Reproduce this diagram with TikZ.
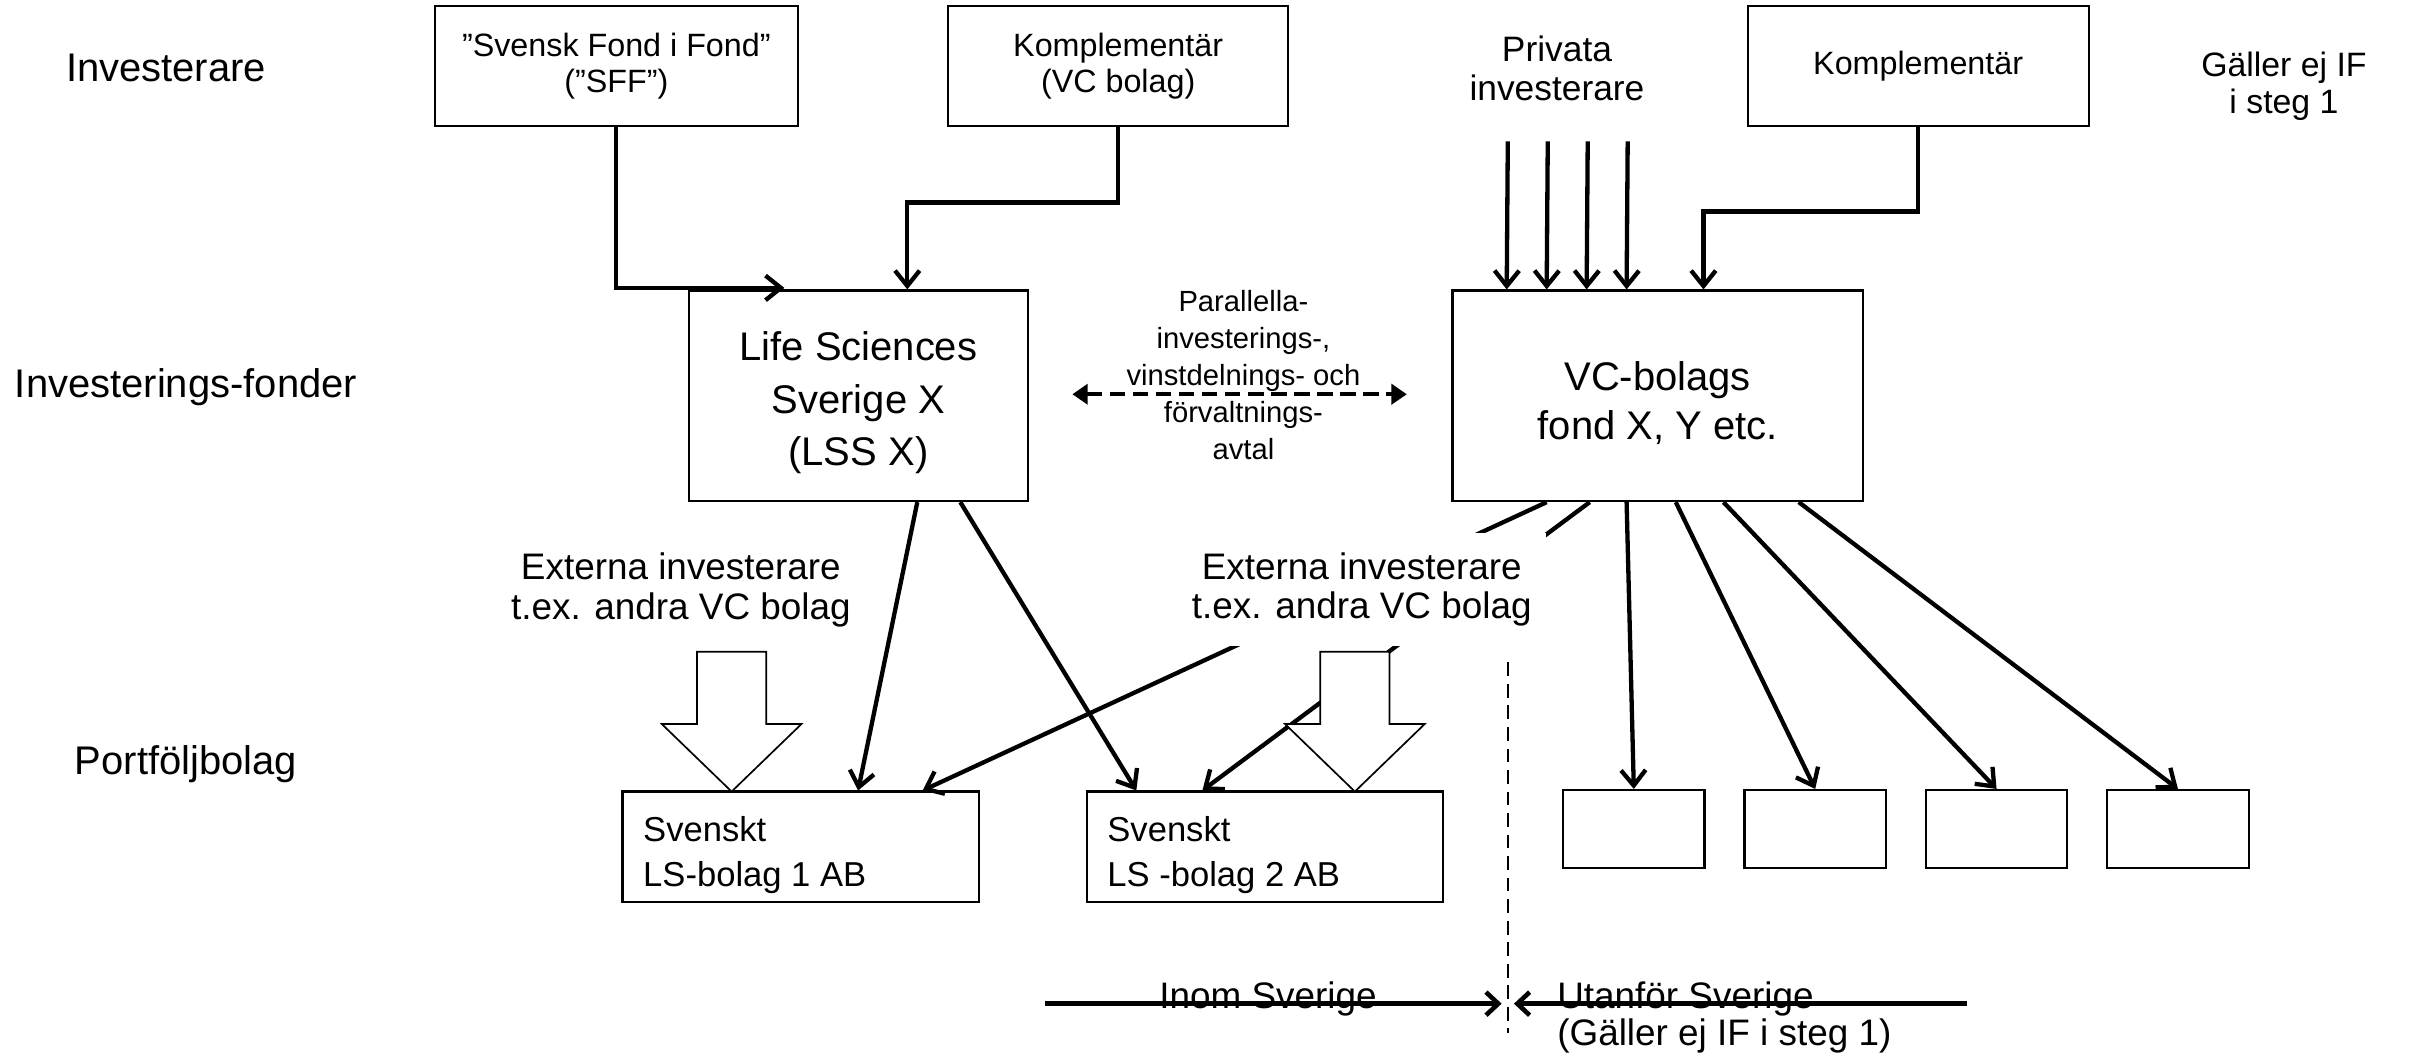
\documentclass[tikz,border=0pt]{standalone}
\usepackage{fontspec}
\setmainfont{Liberation Sans}
\usetikzlibrary{arrows.meta,calc}
\begin{document}
\begin{tikzpicture}[x=1pt,y=-1pt,
  box/.style={draw, line width=1.4pt, fill=white, inner sep=0pt, align=center},
  conn/.style={line width=2.8pt, -{Straight Barb[length=10pt,width=16pt]}},
  lbl/.style={align=center, inner sep=0pt},
  hollowarrow/.style={draw, line width=1.1pt, fill=white, line join=miter},
  fbig/.style={font=\fontsize{26}{31.5}\selectfont},
  fmid/.style={font=\fontsize{24}{26}\selectfont},
  fbox/.style={font=\fontsize{21}{23}\selectfont},
  fsmall/.style={font=\fontsize{19}{24}\selectfont},
  lstext/.style={anchor=north west, inner sep=0pt, align=left, font=\fontsize{22.5}{29}\selectfont},
]
\useasboundingbox (0,0) rectangle (1568,686);
\fill[white] (0,0) rectangle (1568,686);

% row labels
\node[lbl, fbig] (rInv) at (108,44) {Investerare};
\node[lbl, fbig] (rFond) at (121,252) {Investerings-fonder};
\node[lbl, fbig] (rPort) at (121,497) {Portföljbolag};

% top row
\node[box, fbox, minimum width=236pt, minimum height=78pt] (sff) at (401,43) {”Svensk Fond i Fond”\\(”SFF”)};
\node[box, fbox, minimum width=221pt, minimum height=78pt] (kvc) at (727.5,43) {Komplementär\\(VC bolag)};
\node[lbl, font=\fontsize{23}{25}\selectfont] (priv) at (1013,44.5) {Privata\\investerare};
\node[box, fbox, minimum width=222pt, minimum height=78pt] (kr) at (1248,43) {Komplementär};
\node[lbl, font=\fontsize{22}{24}\selectfont] (gal) at (1486,56) {Gäller ej IF\\i steg 1};

% funds
\node[box, minimum width=221pt, minimum height=137pt] (lss) at (558.5,257.5) {};
\node[lbl, font=\fontsize{26}{34}\selectfont] (lsstext) at (558.5,262) {Life Sciences\\Sverige X\\(LSS X)};
\node[box, minimum width=267pt, minimum height=137pt] (vc) at (1078.5,257.5) {};
\node[lbl, font=\fontsize{26}{32}\selectfont] (vctext) at (1078.5,262) {VC-bolags\\fond X, Y etc.};
\node[lbl, fsmall] (para) at (809,244) {Parallella-\\investerings-,\\vinstdelnings- och\\förvaltnings-\\avtal};

% portfolio companies
\node[box, minimum width=232pt, minimum height=72pt] (ls1) at (521,551) {};
\node[lstext] (ls1text) at ([xshift=14pt,yshift=-17pt]ls1.north west) {Svenskt\\LS-bolag 1 AB};
\node[box, minimum width=232pt, minimum height=72pt] (ls2) at (823,551) {};
\node[lstext] (ls2text) at ([xshift=14pt,yshift=-17pt]ls2.north west) {Svenskt\\LS -bolag 2 AB};
\node[box, minimum width=92pt, minimum height=51pt] (s1) at (1063,539.5) {};
\node[box, minimum width=92pt, minimum height=51pt] (s2) at (1181,539.5) {};
\node[box, minimum width=92pt, minimum height=51pt] (s3) at (1299,539.5) {};
\node[box, minimum width=92pt, minimum height=51pt] (s4) at (1417,539.5) {};

% investor arrows
\draw[conn] (sff.south) |- ([xshift=63pt,yshift=1pt]lss.north west);
\draw[conn] (kvc.south) -- ++(0,49) -| ([xshift=143pt]lss.north west);
\coordinate (p1) at (981,92);
\coordinate (p2) at (1007,92);
\coordinate (p3) at (1033,92);
\coordinate (p4) at (1059,92);
\draw[conn] (p1) -- ([xshift=36pt]vc.north west);
\draw[conn] (p2) -- ([xshift=62pt]vc.north west);
\draw[conn] (p3) -- ([xshift=88pt]vc.north west);
\draw[conn] (p4) -- ([xshift=114pt]vc.north west);
\draw[conn] (kr.south) -- ++(0,55) -| ([xshift=164pt]vc.north west);

% agreement arrow
\draw[line width=2.6pt, dash pattern=on 10pt off 5pt, {Triangle[length=10pt,width=13pt]}-{Triangle[length=10pt,width=13pt]}]
  ([xshift=28pt,yshift=1pt]lss.east) -- ([xshift=-29pt,yshift=1pt]vc.west);

% fund to company arrows
\draw[conn] ([xshift=149.5pt]lss.south west) -- ([xshift=154pt]ls1.north west);
\draw[conn] ([xshift=177.5pt]lss.south west) -- ([xshift=33pt]ls2.north west);
\draw[conn] ([xshift=62pt]vc.south west) -- ([xshift=196pt]ls1.north west);
\draw[conn] ([xshift=90pt]vc.south west) -- ([xshift=76pt]ls2.north west);
\draw[conn] ([xshift=114pt]vc.south west) -- (s1.north);
\draw[conn] ([xshift=146pt]vc.south west) -- (s2.north);
\draw[conn] ([xshift=177pt]vc.south west) -- (s3.north);
\draw[conn] ([xshift=226pt]vc.south west) -- (s4.north);

% external investors
\node[lbl, fmid, fill=white] (ext1) at (443,384) {Externa investerare\\t.ex. andra VC bolag};
\node[lbl, fmid, fill=white, minimum width=240pt, minimum height=73pt] (ext2) at (886,383.5) {Externa investerare\\t.ex. andra VC bolag};
\draw[hollowarrow] (453.5,424) -- (498.5,424) -- (498.5,471) -- (521.5,471) -- (476,515) -- (430.5,471) -- (453.5,471) -- cycle;
\draw[hollowarrow] (859,424) -- (904,424) -- (904,471) -- (927,471) -- (881.5,515) -- (836,471) -- (859,471) -- cycle;

% border Sweden / abroad
\coordinate (dtop) at (981,431);
\coordinate (dbot) at (981,672);
\draw[line width=1.3pt, dash pattern=on 9pt off 5pt] (dtop) -- (dbot);
\node[anchor=base, inner sep=0pt, fmid] (inom) at (825,656) {Inom Sverige};
\node[anchor=base west, inner sep=0pt, fmid] (utan) at (1013,656) {Utanför Sverige};
\node[anchor=base west, inner sep=0pt, fmid] (galb) at (1013,680) {(Gäller ej IF i steg 1)};
\coordinate (bL) at (680,653);
\coordinate (bLt) at (977,653);
\coordinate (bR) at (1280,653);
\coordinate (bRt) at (985,653);
\draw[line width=3pt, -{Straight Barb[length=8pt,width=15pt]}] (bL) -- (bLt);
\draw[line width=3pt, -{Straight Barb[length=8pt,width=15pt]}] (bR) -- (bRt);
\end{tikzpicture}
\end{document}
